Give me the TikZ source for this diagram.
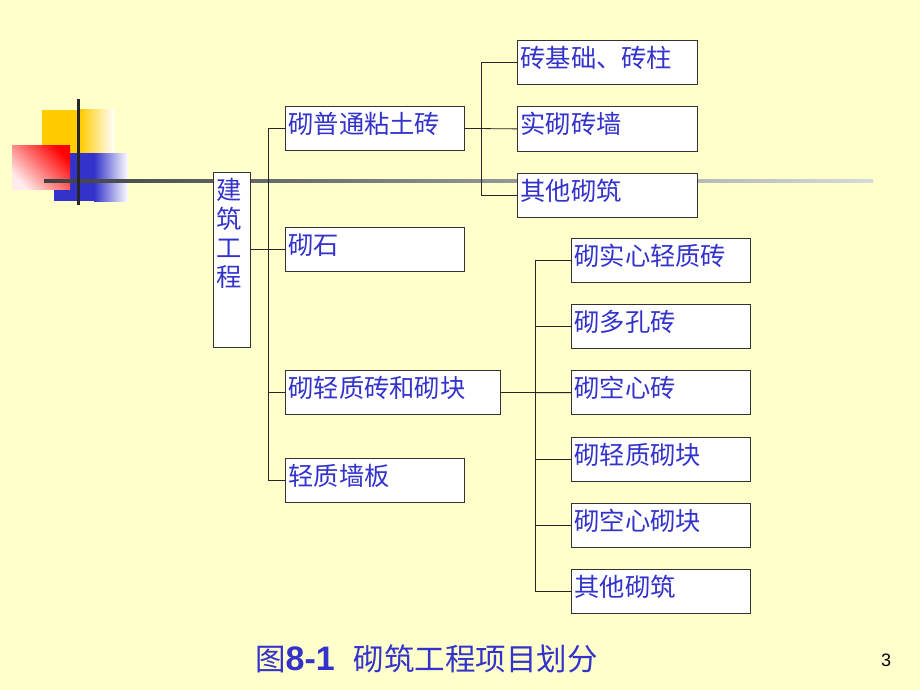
\documentclass[tikz,border=0pt]{standalone}
\usepackage{fontspec}
\setmainfont{Liberation Sans}
\newfontfamily\cjk{Noto Sans CJK SC}
\usetikzlibrary{calc}
\definecolor{bg}{HTML}{FFFFCC}
\definecolor{ink}{HTML}{3333CC}
\definecolor{gold}{HTML}{FFCC00}
\begin{document}
\begin{tikzpicture}[x=1pt,y=-1pt,
 box/.style={draw=black!80, fill=white, line width=0.8pt, anchor=north west,
  inner xsep=3pt, inner ysep=2pt, text height=25pt, text depth=15pt, align=left,
  font=\cjk\fontsize{25.3}{29}\selectfont, text=ink},
 link/.style={draw=black!85, line width=0.8pt}]
\fill[bg] (0,0) rectangle (920,690);
\useasboundingbox (0,0) rectangle (920,690);
\fill[gold] (42,110) rectangle (80,182);
\shade[left color=gold, right color=white] (80,110) rectangle (114,182);
\fill[ink] (54,153) rectangle (94,201);
\shade[left color=ink, right color=white] (94,153) rectangle (128,201);
\shade[top color=red, bottom color=red!8, shading angle=-45] (12,145) rectangle (70,189);
\shade[left color=black!75, right color=black!15] (44,179.5) rectangle (873,182.5);
\fill[black!85] (76.5,99) rectangle (79.5,205);
\coordinate (tr) at (268,0);
\coordinate (ub) at (481,0);
\coordinate (lb) at (535,0);
\node[box, text width=31pt, text depth=146pt] (root) at (213,172) {建\\筑\\工\\程};
\node[box, text width=173pt] (ptz) at (285,106) {砌普通粘土砖};
\node[box, text width=173pt] (st) at (285,227) {砌石};
\node[box, text width=209pt] (qz) at (285,370) {砌轻质砖和砌块};
\node[box, text width=173pt] (qb) at (285,458) {轻质墙板};
\foreach \t [count=\i] in {砖基础、砖柱, 实砌砖墙, 其他砌筑}
 \node[box, text width=174pt] (u\i) at (517,{40+66.5*(\i-1)}) {\t};
\foreach \t [count=\i] in {砌实心轻质砖, 砌多孔砖, 砌空心砖, 砌轻质砌块, 砌空心砌块, 其他砌筑}
 \node[box, text width=173pt] (l\i) at (571,{238+66.2*(\i-1)}) {\t};
\draw[link] (root.east |- st.west) -- (st.west);
\draw[link] (ptz.west) -- (ptz.west -| tr) -- (qb.west -| tr) -- (qb.west);
\foreach \n in {st, qz}
 \draw[link] (\n.west -| tr) -- (\n.west);
\draw[link] (ptz.east) -- (u2.west);
\draw[link] (u1.west) -- (u1.west -| ub) -- (u3.west -| ub) -- (u3.west);
\draw[link] (qz.east) -- (l3.west);
\draw[link] (l1.west) -- (l1.west -| lb) -- (l6.west -| lb) -- (l6.west);
\foreach \i in {2,...,5}
 \draw[link] (l\i.west -| lb) -- (l\i.west);
\node[anchor=west, inner sep=0pt, text=ink, font=\cjk\fontsize{30.5}{34}\selectfont] (cap) at (255,659)
 {图{\fontspec{Liberation Sans}\fontsize{34}{34}\selectfont\bfseries 8-1}\hspace{19pt}砌筑工程项目划分};
\node[font=\fontsize{18}{20}\selectfont] (pg) at (886,660) {3};
\end{tikzpicture}
\end{document}
